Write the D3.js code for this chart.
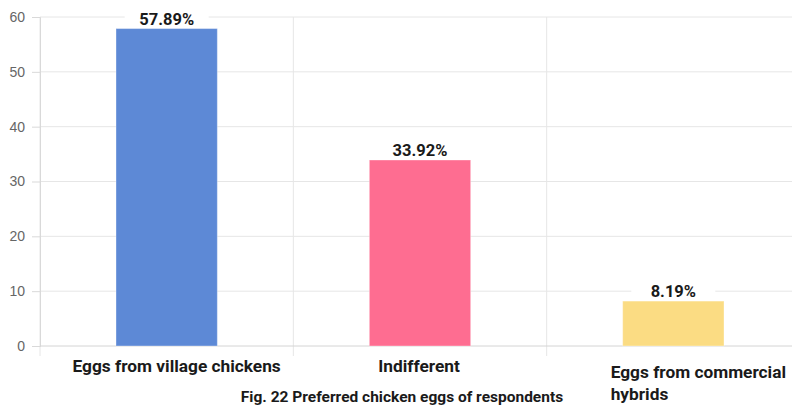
<!DOCTYPE html>
<html>
<head>
<meta charset="utf-8">
<script src="https://cdn.jsdelivr.net/npm/d3@7"></script>
<style>
  body { margin: 0; background: #fff; }
  svg { display: block; font-family: Roboto, "Noto Sans", sans-serif; }
</style>
</head>
<body>
<svg id="chart" width="792" height="407"></svg>
<script>
// preferred chicken eggs of respondents (%)
var categories = ["Eggs from village chickens", "Indifferent", "Eggs from commercial hybrids"];
var values = [57.89, 33.92, 8.19];
var colors = ["#5d89d6", "#fe6d91", "#fbdc83"];
var yTicks = [0, 10, 20, 30, 40, 50, 60];
var caption = "Fig. 22 Preferred chicken eggs of respondents";

var svg = d3.select("#chart");
var mLeft = 40, mRight = 800, mTop = 17, mBottom = 346;

var x = d3.scaleBand().domain(categories).range([mLeft, mRight]);
var y = d3.scaleLinear().domain([0, 60]).range([mBottom, mTop]);

// horizontal grid
svg.append("g")
    .selectAll("line")
    .data(yTicks.slice(1))
    .join("line")
    .attr("x1", mLeft).attr("x2", mRight)
    .attr("y1", function (d) { return y(d); })
    .attr("y2", function (d) { return y(d); })
    .attr("stroke", "#e6e6e6");

// vertical grid at band edges
var edges = categories.map(function (c) { return x(c); }).concat([mRight]);
svg.append("g")
    .selectAll("line")
    .data(edges)
    .join("line")
    .attr("x1", function (d) { return d; })
    .attr("x2", function (d) { return d; })
    .attr("y1", mTop).attr("y2", mBottom + 10)
    .attr("stroke", "#e6e6e6");

// y axis
var yAxis = svg.append("g")
    .attr("transform", "translate(" + mLeft + ",0)")
    .call(d3.axisLeft(y).tickValues(yTicks).tickSize(8).tickPadding(7));
yAxis.select(".domain").attr("stroke", "#d9d9d9");
yAxis.selectAll(".tick line").attr("stroke", "#d9d9d9");
yAxis.selectAll(".tick text")
    .attr("fill", "#666")
    .style("font-size", "14px");

// baseline
svg.append("line")
    .attr("x1", mLeft).attr("x2", mRight)
    .attr("y1", mBottom).attr("y2", mBottom)
    .attr("stroke", "#d4d4d4");

// bars
var bw = x.bandwidth() * 0.4;
svg.append("g")
    .selectAll("rect")
    .data(values)
    .join("rect")
    .attr("x", function (d, i) { return x(categories[i]) + (x.bandwidth() - bw) / 2; })
    .attr("y", function (d) { return y(d); })
    .attr("width", bw)
    .attr("height", function (d) { return mBottom - y(d); })
    .attr("fill", function (d, i) { return colors[i]; })
    .attr("stroke", "rgba(255,255,255,0.35)");

// value labels with white background
var lbl = svg.append("g")
    .selectAll("g")
    .data(values)
    .join("g")
    .attr("transform", function (d, i) {
        return "translate(" + (x(categories[i]) + x.bandwidth() / 2) + "," + (y(d) - 4) + ")";
    });
lbl.append("rect")
    .attr("x", -42).attr("y", -17).attr("width", 84).attr("height", 17)
    .attr("fill", "#fff");
lbl.append("text")
    .attr("text-anchor", "middle")
    .attr("fill", "#1a1a1a")
    .style("font-size", "16.5px")
    .style("font-weight", "700")
    .text(function (d) { return d.toFixed(2) + "%"; });

// category labels
var catG = svg.append("g")
    .style("font-size", "17.3px")
    .style("font-weight", "700")
    .attr("fill", "#1a1a1a");
catG.append("text")
    .attr("x", x(categories[0]) + x.bandwidth() / 2 + 10)
    .attr("y", 372)
    .attr("text-anchor", "middle")
    .text(categories[0]);
catG.append("text")
    .attr("x", x(categories[1]) + x.bandwidth() / 2 - 1)
    .attr("y", 372)
    .attr("text-anchor", "middle")
    .text(categories[1]);
var t3 = catG.append("text")
    .attr("x", x(categories[2]) + 64)
    .attr("y", 378);
t3.append("tspan").text("Eggs from commercial");
t3.append("tspan")
    .attr("x", x(categories[2]) + 64)
    .attr("dy", 22)
    .text("hybrids");

// caption
svg.append("text")
    .attr("x", 402)
    .attr("y", 402)
    .attr("text-anchor", "middle")
    .attr("fill", "#1a1a1a")
    .style("font-size", "15.5px")
    .style("font-weight", "700")
    .text(caption);
</script>
</body>
</html>
